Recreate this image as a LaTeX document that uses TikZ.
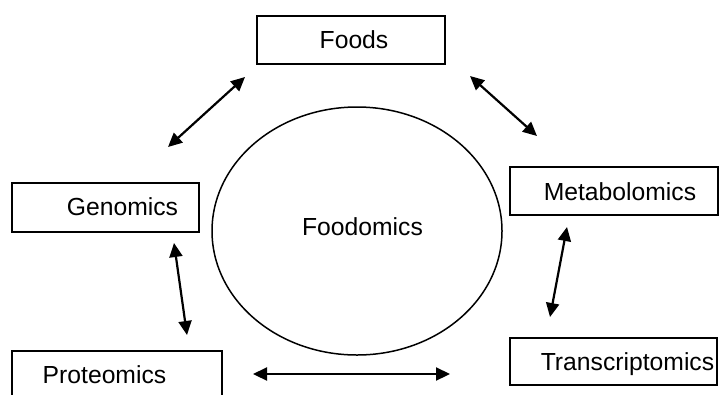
\documentclass[tikz,border=0pt]{standalone}
\usepackage{fontspec}
\setmainfont{Liberation Sans}
\usetikzlibrary{arrows.meta,shapes.geometric}

\tikzset{
	box/.style={draw, line width=1.4pt, inner sep=0pt},
	core/.style={draw, ellipse, line width=1.5pt, inner sep=0pt},
	lbl/.style={anchor=base, inner sep=0pt, font=\fontsize{24.7}{30}\selectfont},
	link/.style={line width=2.2pt, {Triangle[length=14pt,width=13pt]}-{Triangle[length=14pt,width=13pt]}}
}

\begin{document}
\begin{tikzpicture}[x=1pt,y=-1pt]

		\useasboundingbox (0,0) rectangle (719,394);
		\clip (0,0) rectangle (719,394);

		% boxes
		\node[box, minimum width=188, minimum height=48] (foods) at (351,40) {};
		\node[box, minimum width=187, minimum height=49] (genomics) at (105.5,207.5) {};
		\node[box, minimum width=208, minimum height=48] (metabolomics) at (614,191) {};
		\node[box, minimum width=207, minimum height=47] (transcriptomics) at (613.5,361.5) {};
		\node[box, minimum width=210, minimum height=59] (proteomics) at (117,380.5) {};

		% centre
		\node[core, minimum width=290, minimum height=248] (foodomics) at (357,231) {};

		% labels
		\node[lbl] (foodsLbl) at (354,48) {Foods};
		\node[lbl] (genomicsLbl) at (122.5,215) {Genomics};
		\node[lbl] (metabolomicsLbl) at (620,200) {Metabolomics};
		\node[lbl] (transcriptomicsLbl) at (627.5,370) {Transcriptomics};
		\node[lbl] (proteomicsLbl) at (104.5,383) {Proteomics};
		\node[lbl] (foodomicsLbl) at (362.5,235) {Foodomics};

		% arrow ends
		\coordinate (fgA) at (245,77);
		\coordinate (fgB) at (168,147);
		\coordinate (fmA) at (470,76);
		\coordinate (fmB) at (537,136);
		\coordinate (gpA) at (174,243);
		\coordinate (gpB) at (187,335);
		\coordinate (mtA) at (567,227);
		\coordinate (mtB) at (550,317);
		\coordinate (ptA) at (253,374);
		\coordinate (ptB) at (450,374);

		% arrows
		\draw[link] (fgA) -- (fgB);
		\draw[link] (fmA) -- (fmB);
		\draw[link] (gpA) -- (gpB);
		\draw[link] (mtA) -- (mtB);
		\draw[link] (ptA) -- (ptB);

\end{tikzpicture}
\end{document}
